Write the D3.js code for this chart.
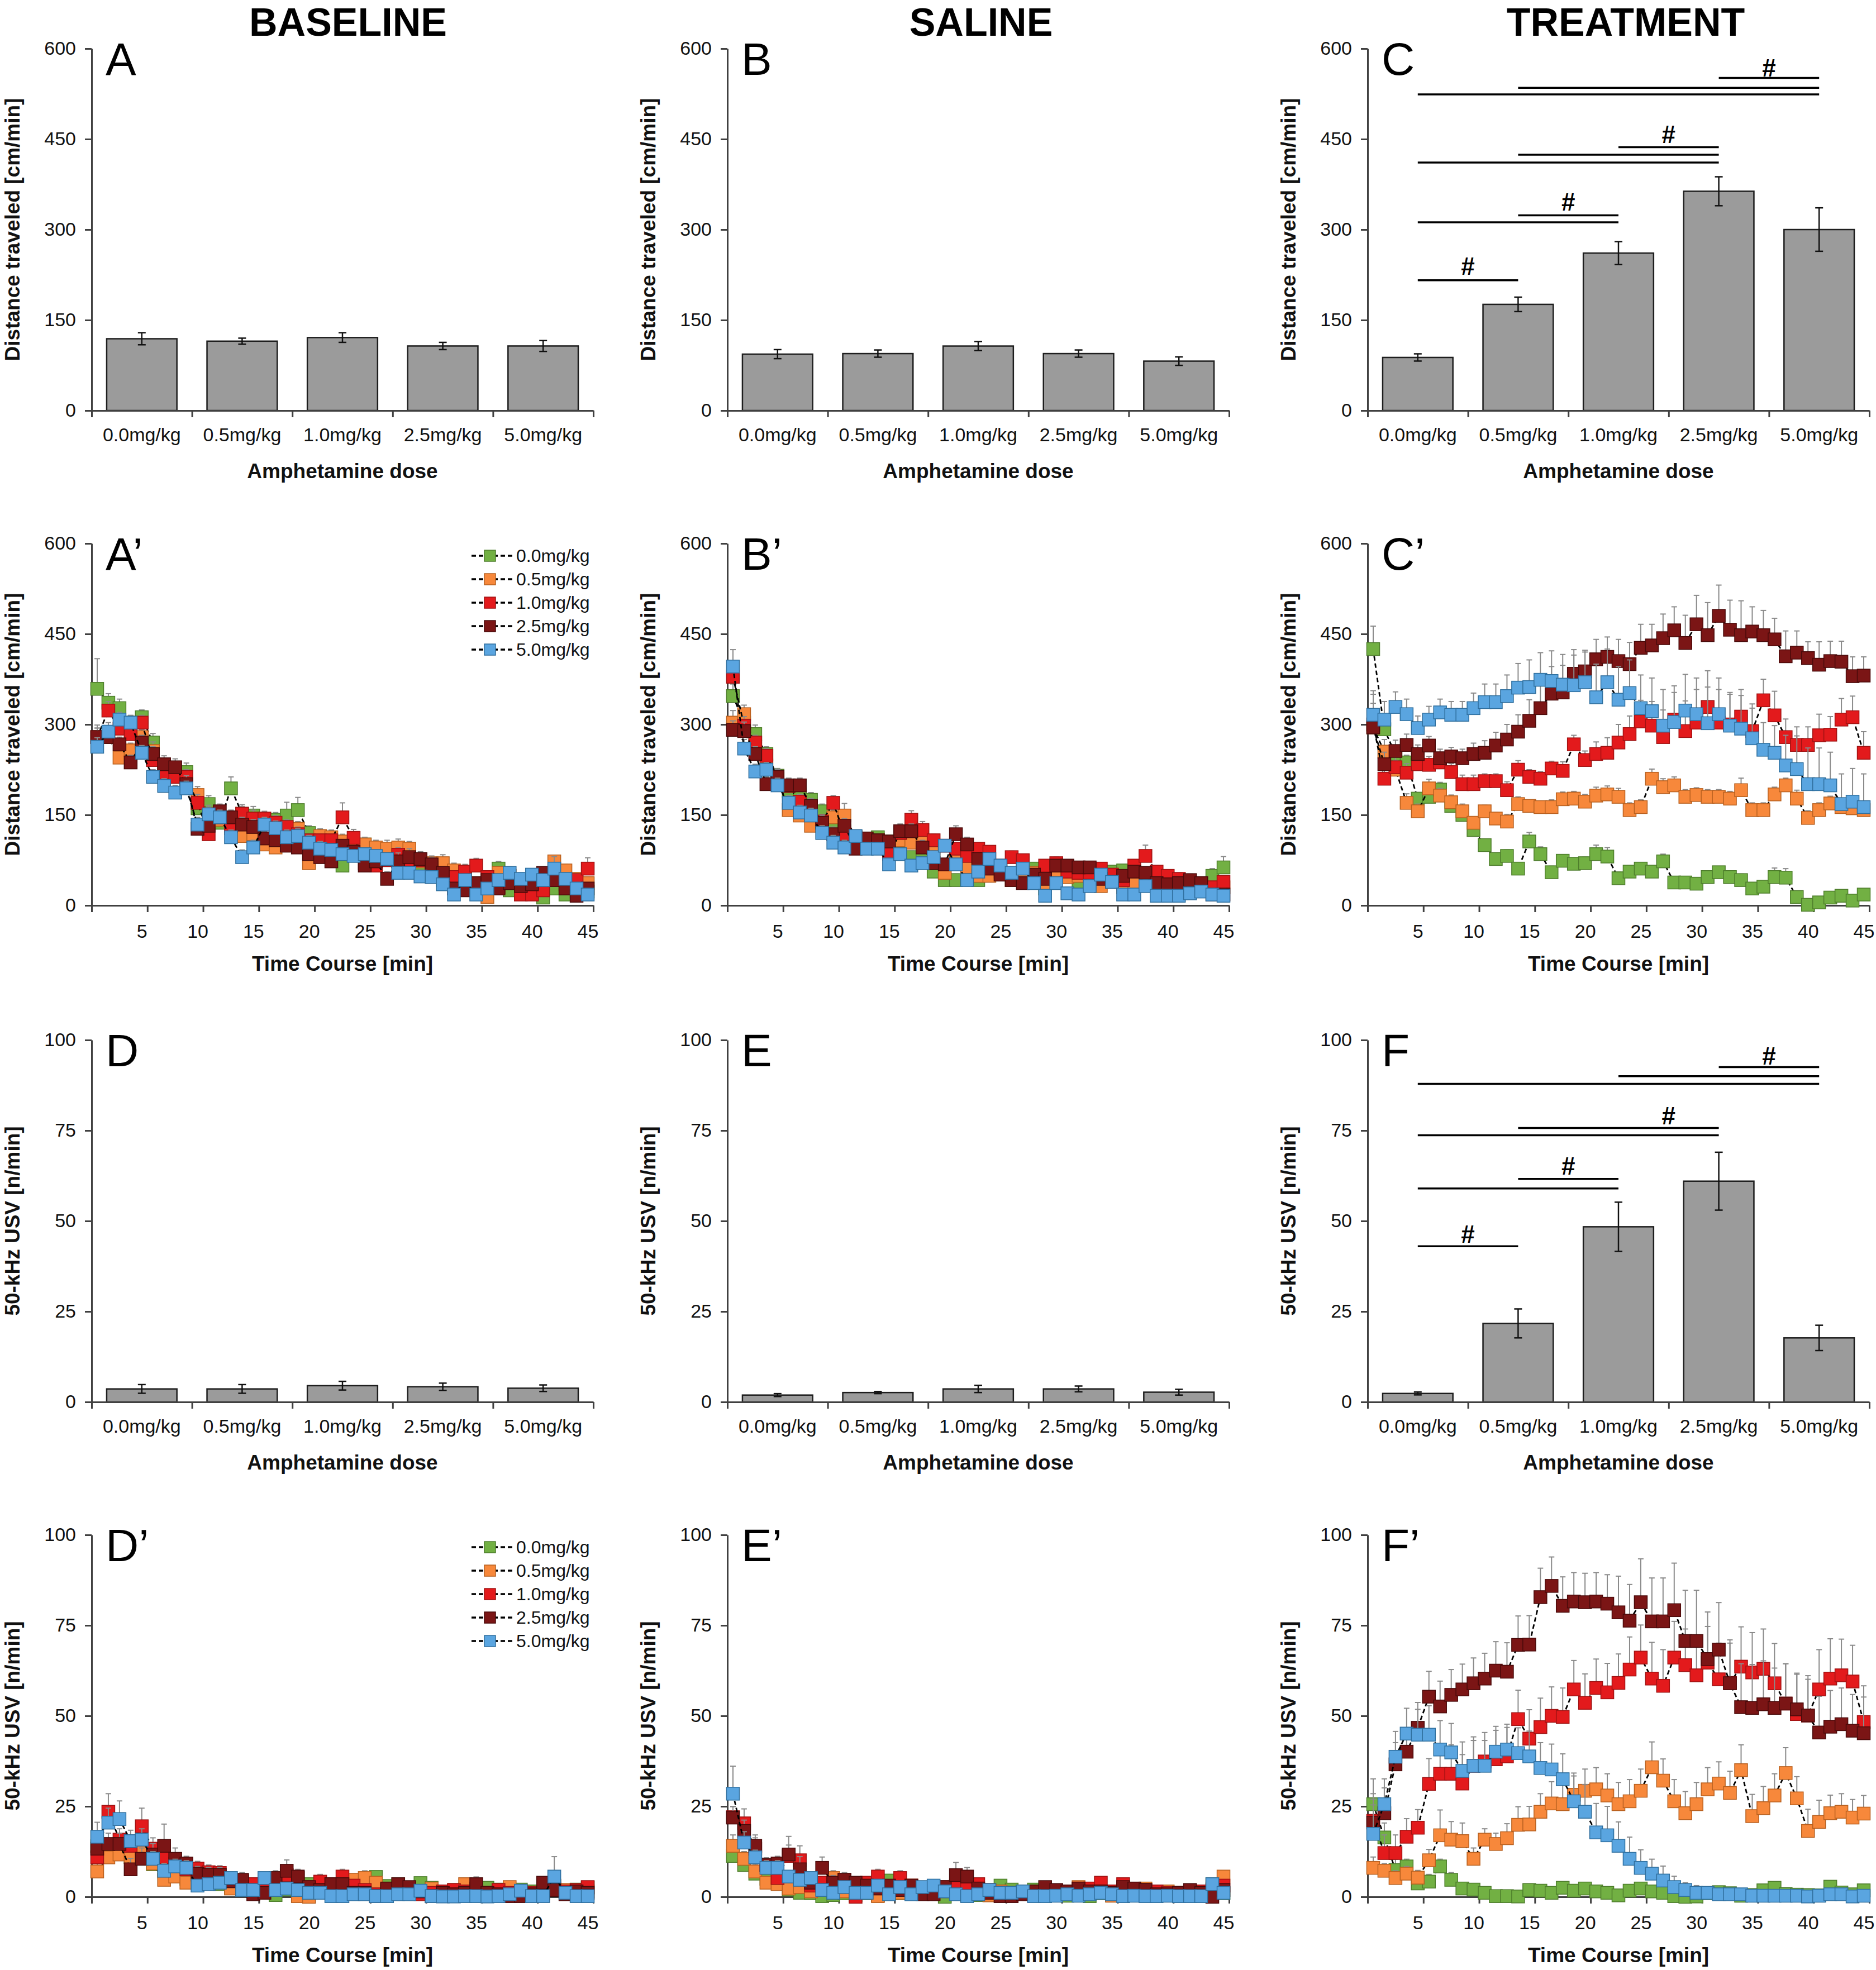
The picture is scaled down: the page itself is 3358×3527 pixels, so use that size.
<!DOCTYPE html>
<html><head><meta charset="utf-8">
<script src="https://cdn.jsdelivr.net/npm/d3@7"></script>
<style>
body{margin:0;background:#fff}
svg{display:block}
text{font-family:Arial,"Liberation Sans",sans-serif}
</style>
</head><body>
<svg id="fig" width="3358" height="3527"></svg>
<script>
// ---------------- DATA ----------------
const doses = ["0.0mg/kg","0.5mg/kg","1.0mg/kg","2.5mg/kg","5.0mg/kg"];
const groupTitles = ["BASELINE","SALINE","TREATMENT"];
const distTicks = [0,150,300,450,600];
const usvTicks = [0,25,50,75,100];
const timeTickLabels = [5,10,15,20,25,30,35,40,45];
const minutes = [1,2,3,4,5,6,7,8,9,10,11,12,13,14,15,16,17,18,19,20,21,22,23,24,25,26,27,28,29,30,31,32,33,34,35,36,37,38,39,40,41,42,43,44,45];
const seriesColors = ["#72b043","#f7883b","#e31a1c","#7b1515","#5aa5e0"];
const seriesEdge   = ["#4e7e2c","#b8601f","#a01212","#4a0a0a","#2f6f9e"];

// Bar panels (mean, SEM)
const distBaseline = [119,115,121,107,107];
const distBaselineErr = [10,5,8,6,9];
const distSaline = [93.5,94.4,106.9,94.4,81.9];
const distSalineErr = [7.5,6,7.5,6,7];
const distTreatment = [88,176,261,363.5,300];
const distTreatmentErr = [6,12,19,24,36];
const usvBaseline = [3.6,3.6,4.5,4.2,3.8];
const usvBaselineErr = [1.2,1.2,1.2,1.0,0.9];
const usvSaline = [1.9,2.6,3.6,3.6,2.7];
const usvSalineErr = [0.4,0.3,1.0,0.8,0.8];
const usvTreatment = [2.35,21.7,48.4,61,17.7];
const usvTreatmentErr = [0.4,4,6.8,8,3.5];

// significance brackets: [from, to, value]
const distTreatmentSig = [[0,1,216],[0,2,312],[1,2,323.5],[0,3,411],[1,3,424],[2,3,436.5],[0,4,524],[1,4,535],[3,4,551.5]];
const distTreatmentHash = [[0,1,240],[1,2,346],[2,3,458],[3,4,568]];
const usvTreatmentSig = [[0,1,43],[0,2,59],[1,2,61.6],[0,3,73.7],[1,3,75.7],[0,4,87.9],[2,4,90],[3,4,92.5]];
const usvTreatmentHash = [[0,1,46.5],[1,2,65.2],[2,3,79.1],[3,4,95.7]];

// Time course: order = 0.0, 0.5, 1.0, 2.5, 5.0 mg/kg
const distTimeBaseline = [
 [359,336,327,303,312,270,218,215,221,161,168,137,194,152,149,142,142,149,158,120,108,106,66,99,101,94,87,77,66,68,63,42,37,32,35,35,61,25,32,25,13,28,18,23,23],
 [279,279,245,257,279,256,213,218,202,183,152,142,128,115,118,101,96,113,127,70,115,113,106,101,101,96,94,96,94,73,70,70,58,56,37,14,54,49,37,20,42,73,58,44,37],
 [279,323,293,284,303,241,220,213,213,170,118,146,132,152,144,144,137,130,118,108,108,108,146,112,70,66,75,84,75,75,63,51,47,56,66,47,30,37,18,18,25,42,35,42,61],
 [279,279,267,237,270,251,234,229,201,127,132,156,146,134,130,111,108,99,96,85,80,73,99,89,66,73,44,73,80,77,68,54,28,25,37,42,28,37,32,35,54,42,28,16,28],
 [263,288,308,303,253,213,198,187,194,134,151,146,113,80,96,134,128,113,115,104,94,92,85,82,85,82,77,54,54,48,47,35,18,42,18,28,42,54,44,51,42,61,44,28,18]
];
const distTimeBaselineErr = [
 [50,15,15,12,12,15,12,12,15,14,14,12,19,15,15,12,12,22,21,12,12,10,10,12,12,10,10,12,10,10,10,10,8,8,8,8,12,12,8,10,8,10,8,8,8],
 [20,15,12,12,12,15,12,14,14,14,14,12,12,12,12,12,12,12,12,10,12,12,12,12,12,12,14,14,12,12,12,14,12,12,10,10,10,10,10,10,10,10,10,10,10],
 [15,15,15,12,12,15,12,12,12,14,12,12,12,12,14,12,12,12,12,10,10,10,24,14,10,10,10,12,10,10,10,10,10,10,12,10,10,10,10,10,10,10,10,10,18],
 [15,12,12,12,12,12,14,14,14,12,12,12,12,12,12,12,12,12,12,10,10,10,10,10,10,12,12,14,14,12,12,10,10,10,10,10,10,10,10,10,10,10,10,10,10],
 [15,15,12,12,12,12,12,12,12,12,12,12,12,12,12,12,12,12,12,12,12,10,10,10,10,10,10,10,10,10,10,10,10,10,10,10,10,10,10,10,10,20,10,10,10]
];
const distTimeSaline = [
 [347,303,284,251,215,189,184,175,156,134,123,111,106,113,106,101,80,75,56,42,42,44,42,54,61,51,56,61,28,49,51,39,51,47,56,58,49,47,42,35,32,30,30,49,63],
 [303,317,263,232,210,158,149,132,132,146,149,113,104,108,89,108,104,108,92,54,85,63,49,49,56,42,47,54,37,51,47,49,49,32,39,30,39,44,32,30,28,28,30,30,30],
 [379,298,270,248,213,198,172,163,139,170,118,113,106,108,85,120,142,125,108,99,94,82,94,89,66,80,75,47,66,70,56,54,54,61,51,42,66,82,56,49,44,35,37,30,39],
 [291,289,251,201,213,199,199,165,137,118,132,94,111,108,106,123,123,96,70,68,118,101,77,61,51,42,37,51,44,66,66,63,63,44,39,49,56,54,37,35,37,42,37,18,18],
 [396,260,222,225,199,170,154,149,120,104,96,115,94,94,68,85,66,70,80,99,68,42,56,77,66,54,61,37,16,37,20,18,32,51,39,18,18,32,16,16,16,20,23,18,16]
];
const distTimeSalineErr = [
 [20,15,15,12,12,12,12,12,12,12,12,10,10,10,10,10,10,10,10,10,10,10,10,10,10,10,10,10,10,10,10,10,10,10,10,10,10,10,10,10,10,10,10,12,18],
 [20,15,12,12,12,12,12,12,12,12,20,10,10,10,10,10,10,10,10,10,10,10,10,10,10,10,10,10,10,10,10,10,10,10,10,10,10,10,10,10,10,10,10,10,10],
 [20,15,12,12,12,12,12,12,12,12,10,10,10,10,10,12,15,14,10,10,10,10,10,10,10,10,10,10,10,10,10,10,10,10,10,10,10,18,10,10,10,10,10,10,10],
 [15,15,12,12,12,12,12,12,12,12,12,10,10,10,10,12,12,12,10,10,14,12,10,10,10,10,10,10,10,10,10,10,10,10,10,10,10,10,10,10,10,10,10,10,10],
 [28,15,12,12,12,12,12,12,12,12,12,10,10,10,10,10,10,10,10,10,10,10,10,10,10,10,10,10,10,10,10,10,10,10,10,10,10,10,10,10,10,10,10,10,10]
];
const distTimeTreatment = [
 [425,292,250,237,177,180,192,165,150,125,100,77,82,61,106,85,55,74,69,70,85,81,45,56,61,56,73,38,38,36,47,55,47,42,28,31,47,46,14,1,5,13,16,8,18],
 [295,255,225,170,156,194,182,171,156,137,156,144,139,168,165,163,163,176,177,172,182,184,180,158,163,210,196,199,180,183,180,180,177,191,158,158,184,199,177,145,158,169,163,161,158],
 [300,210,229,220,234,233,237,221,201,201,206,206,191,225,213,210,227,223,267,241,251,253,270,284,305,298,279,308,289,303,329,303,300,313,289,340,315,279,266,266,282,283,308,312,253],
 [295,234,256,266,251,265,244,247,244,251,253,265,275,288,306,327,351,353,384,388,408,412,405,400,427,431,443,456,435,466,448,480,457,448,454,448,441,413,419,410,399,405,404,380,381],
 [316,308,329,317,294,308,320,316,316,327,337,337,347,361,362,374,372,366,365,370,345,370,341,352,327,322,298,304,323,317,302,317,298,293,277,258,253,232,226,201,201,199,168,172,163]
];
const distTimeTreatmentErr = [
 [38,20,15,12,10,12,12,12,10,10,8,10,10,10,15,12,10,10,10,10,15,15,10,10,10,10,12,8,8,8,10,8,8,10,8,8,15,15,8,6,6,6,6,6,6],
 [30,20,15,15,12,15,12,12,12,10,10,10,12,12,10,10,12,12,12,12,14,14,14,12,12,16,14,14,12,12,12,12,12,20,12,12,12,12,14,12,12,12,14,14,14],
 [35,20,18,15,14,14,14,14,15,15,12,12,14,15,12,12,12,15,15,15,20,25,30,30,35,40,45,45,50,55,60,55,50,45,45,35,40,30,30,30,35,30,35,35,35],
 [55,20,18,18,15,15,15,15,15,18,20,22,25,28,35,40,45,45,40,35,33,33,36,36,39,35,40,39,46,48,54,51,49,57,41,41,35,42,36,27,38,33,34,32,31],
 [40,30,25,25,20,22,22,22,22,25,30,30,35,40,45,45,50,50,50,50,55,55,55,55,55,55,60,60,60,60,60,60,55,55,50,45,45,50,55,60,60,55,50,55,55]
];
const usvTimeBaseline = [
 [14,12.5,12,11,12,9,7,6.5,5,4,4,3.5,2.5,2,2,1.5,0.5,2,2.5,3.5,2,1.5,2.5,3,4,5.5,3,3.5,1,3.8,2.5,1.5,1.5,2,1.5,2.5,2,1.5,2,1.5,1,3,1.5,2,2.5],
 [7,10.9,11.7,11,13.3,9.2,4.7,5.6,3.9,6,5.2,4.7,2.3,2.3,3.5,2.7,4.3,3.1,0.2,0,1.5,1.9,2.7,4.7,5.2,3.9,1.5,1.1,1.9,1.1,2.3,1.1,1.9,3.5,1.1,1.1,1.9,2.7,1.1,0.2,1.1,3.1,1.9,1.1,1.5],
 [10.9,23.5,15.8,14.1,19.5,13.3,10.9,9.2,7.6,7.8,6.8,6.6,4.7,4.3,3.5,3.1,4.3,6,5.2,2.7,4.2,3.5,5.6,3.1,1.9,0.7,1.9,2.3,2.3,0.7,1.1,1.5,1.9,1.5,2.3,1.1,1.9,1.1,1.5,1.1,1.1,2.3,1.5,1.9,2.7],
 [13.3,14.6,14.6,7.6,10.5,11.7,14.1,10.5,9.2,6.4,6.1,6.1,4.3,4.7,0.7,1.1,5.2,7.2,5.6,2.7,1.9,3.5,3.5,1.1,1.1,0.2,2.3,3.5,2.7,1.5,0.2,1.1,0.7,1.1,3.5,1.1,0.7,0.2,0.2,0.7,3.9,1.9,0.7,1.5,1.1],
 [16.6,20.5,21.5,15.4,15.8,10.5,7.2,8.4,8,3.1,3.5,3.9,5.2,1.9,1.9,5.2,1.9,2.3,1.9,1.1,1.1,0.2,0.2,0.7,0.7,0.2,0.2,0.7,0.7,1.7,0.2,0.1,0.1,0.2,0.2,0.1,0.2,0.7,1.7,0.2,0.2,5.6,1.1,0.2,0.2]
];
const usvTimeBaselineErr = [
 [4,3,3,2,2,2,2,2,1.5,1.5,1.5,1.5,1.5,1.5,1,1,1,1,1,1,1,1,1,1,1,1,1,1,1,1,1,1,1,1,1,1,1,1,1,1,1,1,1,1,1],
 [3,3,3,3,3,2,2,2,2,2,2,2,1.5,1.5,1.5,1.5,1.5,1.5,1,1,1,1,1.5,1.5,2,1.5,1,1,1,1,1,1,1,1.5,1,1,1,1,1,1,1,1,1,1,1],
 [3,5,3,3,5,3,3,2,2,2,2,2,2,2,1.5,1.5,1.5,1.5,1.5,1.5,2,1.5,2,1.5,1,1,1,1,1,1,1,1,1,1,1,1,1,1,1,1,1,1,1,1,1],
 [3,3,3,3,3,3,6,3,2,2,2,2,2,2,1.5,1.5,2,3,2,1.5,1.5,1.5,1.5,1,1,1,1,1,1,1,1,1,1,1,2,1,1,1,1,1,1.5,1,1,1,1],
 [4,4,5,3,3,2,2,2,2,1.5,1.5,1.5,1.5,1.5,1.5,1.5,1,1,1,1,1,1,1,1,1,1,1,1,1,1,1,1,1,1,1,1,1,1,1,1,1,5.5,1,1,1]
];
const usvTimeSaline = [
 [11.3,8.8,6.4,5,4,2,1.1,1,0.2,0.5,1,0.5,1,0.5,4.5,1,1.5,1.5,2,0,1,0.5,0.5,1,3.1,2,1.5,2,1,1,0.3,1,0.2,1,0.5,0.5,1,0.5,0.5,1,1,1,0.5,3.5,1],
 [14.1,10.5,7,3.9,3.5,2.3,2.7,1.5,3.5,5.2,1.5,1.1,1.1,0.2,1.1,1.1,3.1,1.1,1.1,1.5,2.3,1.5,1.1,0.4,1.5,0.7,1.5,1.1,1.1,1.5,1.1,2.7,1.9,1.5,0.3,1.9,1.1,2.3,1.1,1.5,1.1,0.7,1.1,2.3,5.6],
 [22,20.3,13.3,8.8,5.2,11.3,10.1,3.1,3.9,3.5,4.7,0,3.9,5.6,2.7,5.2,3.1,1.9,2.3,2.7,3.1,2.7,3.5,1.9,1.1,1.1,1.5,1.1,1.1,1.1,1.5,2.3,2.3,3.9,1.5,3.5,1.9,1.9,1.5,1.1,1.1,1.1,1.5,1.9,3.1],
 [21.9,18.2,14.1,8.8,9.2,11.7,7.6,3.9,8,3.9,4.7,3.9,3.1,2.3,3.1,1.9,3.1,0.7,0.7,2.7,6,5.6,2.3,1.1,0.2,0.2,0.7,1.5,2.7,1.9,1.5,2.3,1.5,1.5,1.1,2.7,2.3,1.9,0.7,0.7,1.1,1.9,1.1,0,1.9],
 [28.5,15,10.9,8,8,5.6,4.7,5.2,1.9,1.1,2.7,1.1,1.1,3.1,0.7,2.7,0.7,2.7,3.1,1.5,0.7,0.2,0.7,1.9,1.1,1.1,1.5,0.2,0.2,0.3,0.7,0.3,0.7,1.1,0.7,0.2,0.3,0.2,0.2,0.3,0.2,0.2,0.2,3.5,1.1]
];
const usvTimeSalineErr = [
 [2,2,1.5,1.5,1,1,1,1,1,1,1,1,1,1,1,1,1,1,1,1,1,1,1,1,1,1,1,1,1,1,1,1,1,1,1,1,1,1,1,1,1,1,1,1,1],
 [3,2,2,1.5,1.5,1,1,1,1,2,1,1,1,1,1,1,1,1,1,1,1,1,1,1,1,1,1,1,1,1,1,1,1,1,1,1,1,1,1,1,1,1,1,1,1.5],
 [3,4,3,2,2,3,4,2,1.5,1.5,1.5,1,1.5,2,1.5,2,1.5,1,1,1,1.5,1.5,1.5,1,1,1,1,1,1,1,1,1,1,1.5,1,1,1,1,1,1,1,1,1,1,1],
 [3,3,3,2,2,5,3.5,2,3,2,2,1.5,1.5,1.5,1.5,1,1.5,1,1,1.5,3.5,2.5,1.5,1,1,1,1,1,1,1,1,1,1,1,1,1,1,1,1,1,1,1,1,1,1],
 [7.6,3,2,2,2,1.5,1.5,1.5,1,1,1,1,1,1,1,1,1,1,1,1,1,1,1,1,1,1,1,1,1,1,1,1,1,1,1,1,1,1,1,1,1,1,1,1,1]
];
const usvTimeTreatment = [
 [25.6,16.4,7.4,8.4,3.7,4.2,8.4,4.7,2.3,2,1.1,0.2,0.2,0.1,1.9,1.7,1.1,2.5,1.7,2.3,1.5,1.1,0.4,1.7,2.3,1.5,1.1,0.2,0,0.1,1,1.3,1,0.3,0.5,1.8,2.5,0.8,0.6,0.5,0.4,2.8,1.2,0.7,1.8],
 [8,7.2,5.2,6.4,5.3,10.1,17,15.8,15.4,10.5,15.8,14.6,16.2,19.9,20,23.5,25.8,25.6,28.2,29.3,29.7,28,25.6,26.4,29.3,35.8,32.1,26.4,23.1,25.6,29.7,31.3,28.7,35,22.3,24.5,28,34.2,27.2,18.2,20.7,23.1,23.5,21.9,23],
 [21,12.1,12.1,16.6,19.1,31.2,34,34,31.3,36.2,37.4,38,38.8,49.1,43.7,46.9,50,49.7,57.3,53.6,57.7,56.5,59.1,62.8,66.1,60.3,58.3,66.1,64,61.2,64.7,60.1,59.1,63.6,62,63,59,53.4,50.5,50.1,57.3,60.3,61.2,59.5,48.3],
 [20.5,23.1,36.6,40.1,46.7,55.3,52.6,55.8,57.3,59,60.3,62.5,62.2,69.6,69.7,82.8,85.9,80.4,81.6,81.4,81.6,81,78.6,76.3,81.4,76.1,76.1,79.2,70.7,70.7,65.7,68.3,59,52.4,52.2,53.2,52.2,53.4,51.8,50.1,45.4,47,47.7,45.9,45.2],
 [17.4,25.6,38.7,45.1,44.8,44.8,40.7,39.9,34.8,36.2,36.2,40.1,40.7,39.7,38.8,35.6,35.2,32.5,26.4,23.5,17.8,17,14.1,10.5,8,6.4,4.5,2.7,1.9,1.1,1.1,0.7,0.7,0.7,0.3,0.3,0.3,0.3,0.3,0.1,0.3,0.7,0.7,0.1,0.3]
];
const usvTimeTreatmentErr = [
 [7,4,3,2,2,2,2,2,1,1,1,1,1,1,1,1,1,1,1,1,1,1,1,1,1,1,1,1,1,1,1,1,1,1,1,1,1,1,1,1,1,1,1,1,1],
 [3,2,2,2,2,3,7,5,5,3,3,3,4,5,5,5,6,6,6,6,6,6,6,6,6,7,6,6,6,6,6,6,6,7,6,6,6,7,6,6,6,5,5,5,5],
 [6,5,5,5,5,7,7,8,8,8,8,8,8,8,8,8,8,8,8,8,8,8,8,9,9,10,10,10,10,10,10,10,11,11,11,11,11,11,11,11,11,11,10,10,10],
 [8,7,6,6,7,7,7,7,7,7,7,8,8,8,8,8,8,8,8,8,8,8,10,10,12,12,12,13,14,14,13,13,12,12,12,12,11,11,10,10,10,10,10,10,10],
 [8,7,7,7,7,8,8,8,8,7,7,7,7,7,7,7,7,7,7,7.5,8,8,6.6,6,5,4,4,3,2,2,1,1,1,1,1,1,1,1,1,1,1,1,1,1,1]
];

// ---------------- LAYOUT ----------------
const svg = d3.select("#fig");
svg.append("rect").attr("width",3358).attr("height",3527).attr("fill","#fff");
const colX = [164, 1302, 2448];
const rowY = [87, 973, 1862, 2748];
const PW = 898, PH = 648;
const AX = "#404040";
const TXT = "#111";
const TICKFS = 34;

function styleAxis(sel, fs){
  sel.select(".domain").attr("stroke",AX).attr("stroke-width",3);
  sel.selectAll(".tick line").attr("stroke",AX).attr("stroke-width",3);
  sel.selectAll(".tick text").attr("font-size",fs).attr("fill",TXT)
     .attr("font-family",'Arial,"Liberation Sans",sans-serif');
}

function frame(col,row,yMax,yTicks,yTitle,letter){
  const g = svg.append("g").attr("transform",`translate(${colX[col]},${rowY[row]})`);
  const y = d3.scaleLinear().domain([0,yMax]).range([PH,0]);
  g.append("g").call(d3.axisLeft(y).tickValues(yTicks).tickSize(12).tickPadding(16).tickSizeOuter(0))
    .call(s=>styleAxis(s,TICKFS));
  g.append("text").attr("transform",`translate(-142,${PH/2}) rotate(-90)`)
    .attr("text-anchor","middle").attr("dy","0.35em")
    .attr("font-size",37).attr("font-weight","bold").attr("fill",TXT).text(yTitle);
  g.append("text").attr("x",25).attr("y",47).attr("font-size",82).attr("fill","#000").text(letter);
  return {g,y};
}

function barPanel(col,row,yMax,yTicks,yTitle,letter,vals,errs,sig,hash){
  const {g,y} = frame(col,row,yMax,yTicks,yTitle,letter);
  const xb = d3.scaleBand().domain(doses).range([0,PW]).paddingInner(0.3).paddingOuter(0.15);
  const xl = d3.scaleLinear().domain([0,doses.length]).range([0,PW]);
  g.selectAll("rect.bar").data(doses).join("rect").attr("class","bar")
    .attr("x",d=>xb(d)).attr("width",xb.bandwidth())
    .attr("y",(d,i)=>y(vals[i])).attr("height",(d,i)=>PH-y(vals[i]))
    .attr("fill","#9b9b9b").attr("stroke","#1e1e1e").attr("stroke-width",2.5);
  const eb = g.append("g").attr("stroke","#111").attr("stroke-width",2.5);
  doses.forEach((d,i)=>{
    const cx = xb(d)+xb.bandwidth()/2;
    eb.append("line").attr("x1",cx).attr("x2",cx).attr("y1",y(vals[i]-errs[i])).attr("y2",y(vals[i]+errs[i]));
    eb.append("line").attr("x1",cx-7).attr("x2",cx+7).attr("y1",y(vals[i]+errs[i])).attr("y2",y(vals[i]+errs[i]));
    eb.append("line").attr("x1",cx-7).attr("x2",cx+7).attr("y1",y(vals[i]-errs[i])).attr("y2",y(vals[i]-errs[i]));
  });
  g.append("g").attr("transform",`translate(0,${PH})`)
    .call(d3.axisBottom(xl).tickValues(d3.range(0,doses.length+1)).tickSize(12).tickFormat("").tickSizeOuter(0))
    .call(s=>styleAxis(s,TICKFS));
  const lab = g.append("g").attr("transform",`translate(0,${PH})`)
    .call(d3.axisBottom(xb).tickSize(0).tickPadding(31));
  lab.select(".domain").remove();
  lab.selectAll("text").attr("font-size",TICKFS).attr("fill",TXT).attr("font-family",'Arial,"Liberation Sans",sans-serif');
  g.append("text").attr("x",PW/2).attr("y",PH+121).attr("text-anchor","middle")
    .attr("font-size",37).attr("font-weight","bold").attr("fill",TXT).text("Amphetamine dose");
  if(sig){
    const c = i=>xb(doses[i])+xb.bandwidth()/2;
    g.append("g").selectAll("line").data(sig).join("line")
      .attr("x1",d=>c(d[0])).attr("x2",d=>c(d[1])).attr("y1",d=>y(d[2])).attr("y2",d=>y(d[2]))
      .attr("stroke","#000").attr("stroke-width",3.5);
    g.append("g").selectAll("text").data(hash).join("text")
      .attr("x",d=>(c(d[0])+c(d[1]))/2).attr("y",d=>y(d[2])).attr("dy","0.36em")
      .attr("text-anchor","middle").attr("font-size",44).attr("font-weight","bold").attr("fill","#000").text("#");
  }
}

function timePanel(col,row,yMax,yTicks,yTitle,letter,means,errs,legend){
  const {g,y} = frame(col,row,yMax,yTicks,yTitle,letter);
  const x = d3.scaleLinear().domain([0.5,45.5]).range([0,PW]);
  g.append("g").attr("transform",`translate(0,${PH})`)
    .call(d3.axisBottom(x).tickValues(d3.range(0.5,46,5)).tickSize(12).tickFormat("").tickSizeOuter(0))
    .call(s=>styleAxis(s,TICKFS));
  const lab = g.append("g").attr("transform",`translate(0,${PH})`)
    .call(d3.axisBottom(x).tickValues(timeTickLabels).tickSize(0).tickPadding(34));
  lab.select(".domain").remove();
  lab.selectAll("text").attr("font-size",TICKFS).attr("fill",TXT).attr("font-family",'Arial,"Liberation Sans",sans-serif');
  g.append("text").attr("x",PW/2).attr("y",PH+117).attr("text-anchor","middle")
    .attr("font-size",37).attr("font-weight","bold").attr("fill",TXT).text("Time Course [min]");
  const line = d3.line().x((d,i)=>x(minutes[i])).y(d=>y(d));
  const M = 23;
  means.forEach((ser,s)=>{
    const sg = g.append("g");
    const eg = sg.append("g").attr("stroke","#8a8a8a").attr("stroke-width",2);
    ser.forEach((v,i)=>{
      const cx = x(minutes[i]);
      const top = y(v+errs[s][i]);
      eg.append("line").attr("x1",cx).attr("x2",cx).attr("y1",y(v)).attr("y2",top);
      eg.append("line").attr("x1",cx-5).attr("x2",cx+5).attr("y1",top).attr("y2",top);
    });
    sg.append("path").datum(ser).attr("d",line).attr("fill","none")
      .attr("stroke","#000").attr("stroke-width",2.8).attr("stroke-dasharray","8,5");
    sg.selectAll("rect").data(ser).join("rect")
      .attr("x",(d,i)=>x(minutes[i])-M/2).attr("y",d=>y(d)-M/2).attr("width",M).attr("height",M)
      .attr("fill",seriesColors[s]).attr("stroke",seriesEdge[s]).attr("stroke-width",1.5);
  });
  if(legend){
    const lg = g.append("g").attr("transform","translate(680,22)");
    doses.forEach((d,i)=>{
      const r = lg.append("g").attr("transform",`translate(0,${i*42})`);
      r.append("line").attr("x1",0).attr("x2",75).attr("y1",0).attr("y2",0)
        .attr("stroke","#000").attr("stroke-width",3.5).attr("stroke-dasharray","8,5");
      r.append("rect").attr("x",33-10).attr("y",-10).attr("width",20).attr("height",20)
        .attr("fill",seriesColors[i]).attr("stroke",seriesEdge[i]).attr("stroke-width",1.5);
      r.append("text").attr("x",80).attr("y",0).attr("dy","0.35em").attr("font-size",32)
        .attr("fill",TXT).text(d);
    });
  }
}

// titles
const titleX = [623,1756,2910];
groupTitles.forEach((t,i)=>{
  svg.append("text").attr("x",titleX[i]).attr("y",64).attr("text-anchor","middle")
    .attr("font-size",70).attr("font-weight","bold").attr("fill","#000").text(t);
});

const distLabel = "Distance traveled [cm/min]";
const usvLabel = "50-kHz USV [n/min]";

barPanel(0,0,600,distTicks,distLabel,"A",distBaseline,distBaselineErr);
barPanel(1,0,600,distTicks,distLabel,"B",distSaline,distSalineErr);
barPanel(2,0,600,distTicks,distLabel,"C",distTreatment,distTreatmentErr,distTreatmentSig,distTreatmentHash);

timePanel(0,1,600,distTicks,distLabel,"A\u2019",distTimeBaseline,distTimeBaselineErr,true);
timePanel(1,1,600,distTicks,distLabel,"B\u2019",distTimeSaline,distTimeSalineErr,false);
timePanel(2,1,600,distTicks,distLabel,"C\u2019",distTimeTreatment,distTimeTreatmentErr,false);

barPanel(0,2,100,usvTicks,usvLabel,"D",usvBaseline,usvBaselineErr);
barPanel(1,2,100,usvTicks,usvLabel,"E",usvSaline,usvSalineErr);
barPanel(2,2,100,usvTicks,usvLabel,"F",usvTreatment,usvTreatmentErr,usvTreatmentSig,usvTreatmentHash);

timePanel(0,3,100,usvTicks,usvLabel,"D\u2019",usvTimeBaseline,usvTimeBaselineErr,true);
timePanel(1,3,100,usvTicks,usvLabel,"E\u2019",usvTimeSaline,usvTimeSalineErr,false);
timePanel(2,3,100,usvTicks,usvLabel,"F\u2019",usvTimeTreatment,usvTimeTreatmentErr,false);
</script>
</body></html>
